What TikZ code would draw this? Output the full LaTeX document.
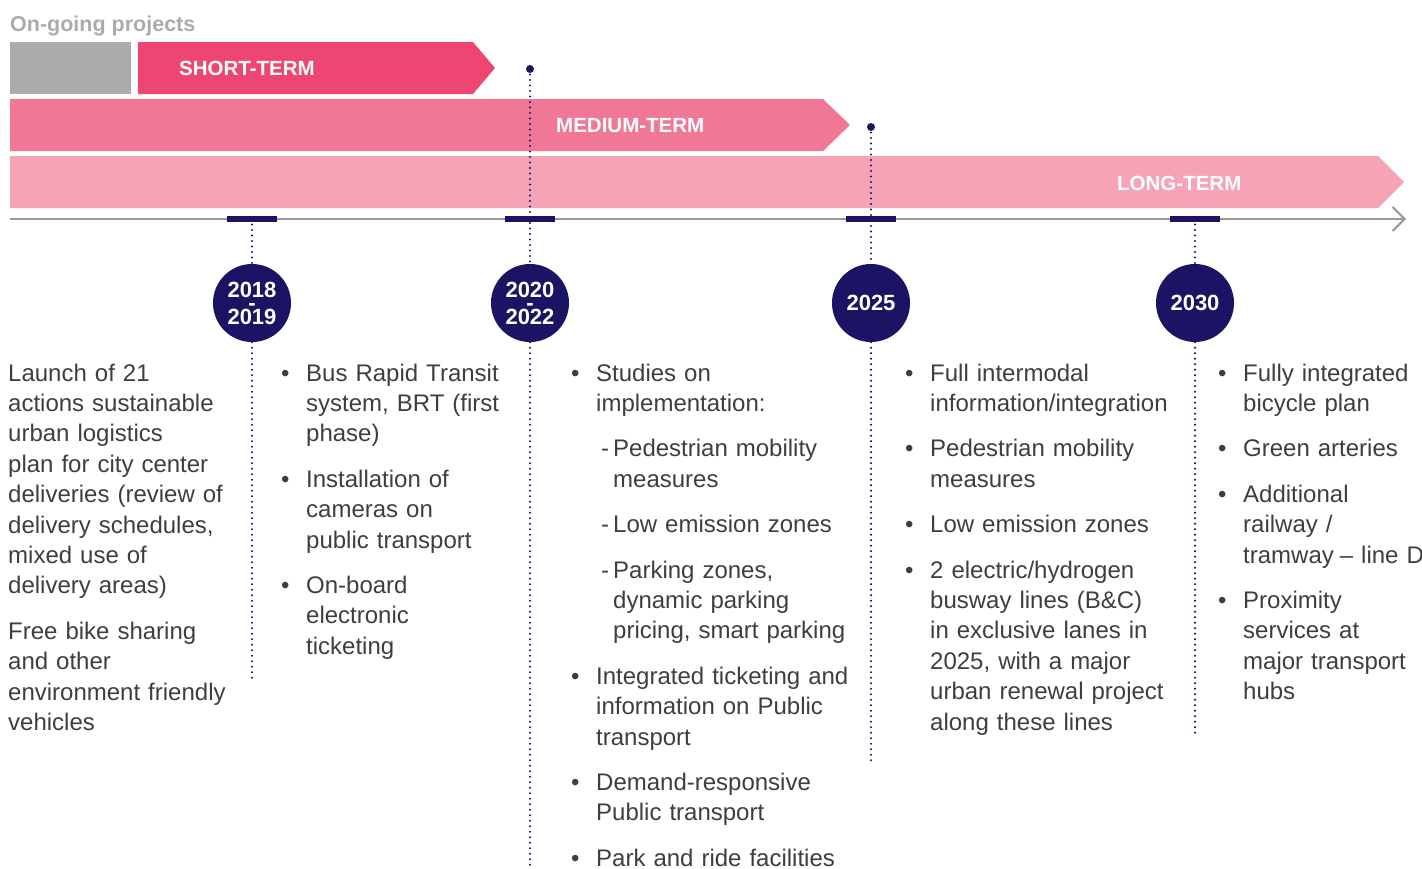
\documentclass[tikz,border=0pt]{standalone}
\usepackage{fontspec}
\setmainfont{Liberation Sans}
\usetikzlibrary{arrows.meta}
\definecolor{navy}{HTML}{1B1464}
\definecolor{shortpink}{HTML}{EE4672}
\definecolor{mediumpink}{HTML}{F07795}
\definecolor{longpink}{HTML}{F6A3B6}
\definecolor{ongoing}{HTML}{ABABAB}
\definecolor{axisgray}{HTML}{999999}
\definecolor{bodytext}{HTML}{3E3E3E}
\newcommand{\bul}{\makebox[25pt][l]{\textbullet}}
\newcommand{\bulind}{\hspace*{25pt}}
\newcommand{\dashitem}{\hspace*{5pt}-\hspace{4pt}}
\newcommand{\dashind}{\hspace*{17pt}}
\begin{document}
\begin{tikzpicture}[x=1pt,y=-1pt,
    term/.style={anchor=west,inner sep=0,text=white,font=\bfseries\fontsize{20.5}{24}\selectfont},
    year/.style={circle,fill=navy,minimum size=78pt,inner sep=0,text=white,align=center,font=\bfseries\fontsize{22}{27}\selectfont},
    tickbar/.style={navy,line width=5.5pt},
    dots/.style={navy,line width=2.4pt,line cap=round,dash pattern=on 0pt off 5.5pt},
    column/.style={anchor=base west,inner sep=0,text width=300pt,align=left,text=bodytext,font=\fontsize{24}{30.4}\selectfont}]
\useasboundingbox (0,0) rectangle (1422,868);
\node[anchor=base west,inner sep=0,text=ongoing,font=\bfseries\fontsize{21.5}{26}\selectfont] (ongoing) at (10,31) {On-going projects};
\fill[ongoing] (10,42) rectangle (131,94);
\fill[shortpink] (138,42) -- (473,42) -- (495,68) -- (473,94) -- (138,94) -- cycle;
\fill[mediumpink] (10,99) -- (823,99) -- (850,125) -- (823,151) -- (10,151) -- cycle;
\fill[longpink] (10,156) -- (1378,156) -- (1404,182) -- (1378,208) -- (10,208) -- cycle;
\node[term] (short) at (179,68) {SHORT-TERM};
\node[term] (medium) at (556,126) {MEDIUM-TERM};
\node[term] (long) at (1117,183) {LONG-TERM};
\coordinate (axisstart) at (10,219);
\coordinate (axisend) at (1406,219);
\draw[axisgray,line width=2pt,-{Straight Barb[length=12pt,width=24pt,line width=2pt]}] (axisstart) -- (axisend);
\foreach \yr/\x in {2018/252,2020/530,2025/871,2030/1195}
  \coordinate (t\yr) at (\x,219);
\coordinate (d2020) at (530,69);
\coordinate (d2025) at (871,127);
\coordinate (e2018) at (252,678);
\coordinate (e2020) at (530,872);
\coordinate (e2025) at (871,764);
\coordinate (e2030) at (1195,736);
\node[year] (y2018) at (252,303) {2018\\[-13.5pt]-\\[-13.5pt]2019};
\node[year] (y2020) at (530,303) {2020\\[-13.5pt]-\\[-13.5pt]2022};
\node[year] (y2025) at (871,303) {2025};
\node[year] (y2030) at (1195,303) {2030};
\draw[dots] (t2018) -- (y2018.north);
\draw[dots] (d2020) -- (y2020.north);
\draw[dots] (d2025) -- (y2025.north);
\draw[dots] (t2030) -- (y2030.north);
\foreach \yr in {2018,2020,2025,2030}
  \draw[dots] (y\yr.south) -- (e\yr);
\foreach \yr in {2018,2020,2025,2030}
  \draw[tickbar] ([xshift=-25pt]t\yr) -- ([xshift=25pt]t\yr);
\fill[navy] (d2020) circle[radius=4pt];
\fill[navy] (d2025) circle[radius=4pt];
\node[column] (col2018) at (8,381) {Launch of 21\\ actions sustainable\\ urban logistics\\ plan for city center\\ deliveries (review of\\ delivery schedules,\\ mixed use of\\ delivery areas)\\[15pt] Free bike sharing\\ and other\\ environment friendly\\ vehicles};
\node[column] (col2019) at (281,381) {\bul Bus Rapid Transit\\ \bulind system, BRT (first\\ \bulind phase)\\[15pt] \bul Installation of\\ \bulind cameras on\\ \bulind public transport\\[15pt] \bul On-board\\ \bulind electronic\\ \bulind ticketing};
\node[column] (col2022) at (571,381) {\bul Studies on\\ \bulind implementation:\\[15pt] \bulind\dashitem Pedestrian mobility\\ \bulind\dashind measures\\[15pt] \bulind\dashitem Low emission zones\\[15pt] \bulind\dashitem Parking zones,\\ \bulind\dashind dynamic parking\\ \bulind\dashind pricing, smart parking\\[15pt] \bul Integrated ticketing and\\ \bulind information on Public\\ \bulind transport\\[15pt] \bul Demand-responsive\\ \bulind Public transport\\[15pt] \bul Park and ride facilities};
\node[column] (col2025) at (905,381) {\bul Full intermodal\\ \bulind information/integration\\[15pt] \bul Pedestrian mobility\\ \bulind measures\\[15pt] \bul Low emission zones\\[15pt] \bul 2 electric/hydrogen\\ \bulind busway lines (B\&C)\\ \bulind in exclusive lanes in\\ \bulind 2025, with a major\\ \bulind urban renewal project\\ \bulind along these lines};
\node[column] (col2030) at (1218,381) {\bul Fully integrated\\ \bulind bicycle plan\\[15pt] \bul Green arteries\\[15pt] \bul Additional\\ \bulind railway /\\ \bulind tramway\hspace{-2pt} -- line D\\[15pt] \bul Proximity\\ \bulind services at\\ \bulind major transport\\ \bulind hubs};
\end{tikzpicture}
\end{document}
